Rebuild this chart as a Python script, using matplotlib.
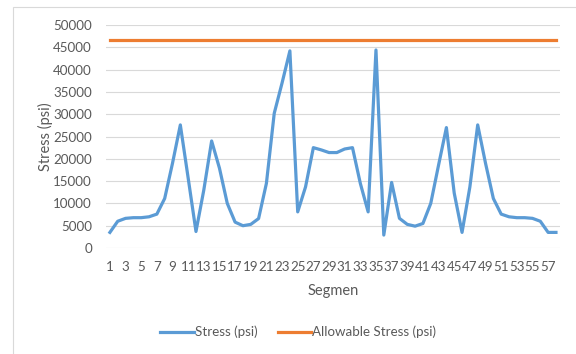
import matplotlib
matplotlib.use("Agg")
import matplotlib.pyplot as plt
from matplotlib.patches import Rectangle

plt.rcParams['font.family'] = ['Lato', 'DejaVu Sans']

# Data
segments = list(range(1, 59))
stress = [3500, 6000, 6650, 6800, 6800, 7000, 7600, 11100, 19000, 27600,
          15700, 3700, 13000, 24000, 17900, 10000, 5800, 5000, 5300, 6600,
          14500, 30200, 37000, 44200, 8100, 13700, 22500, 22000, 21400, 21400,
          22200, 22500, 14500, 8100, 44400, 2900, 14700, 6650, 5300, 4900,
          5500, 10000, 18600, 27000, 12300, 3500, 13700, 27600, 19000, 11100,
          7600, 7000, 6800, 6800, 6650, 6000, 3500, 3500]
allowable = [46700] * len(segments)
yticks = list(range(0, 50001, 5000))

fig = plt.figure(figsize=(5.76, 3.54), dpi=100)
ax = fig.add_axes([0.184, 0.2994, 0.788, 0.630])

ax.plot(segments, stress, color='#5B9BD5', linewidth=2.3, label='Stress (psi)',
        solid_joinstyle='round')
ax.plot(segments, allowable, color='#ED7D31', linewidth=2.3, label='Allowable Stress (psi)')

ax.set_xlim(0.5, 58.5)
ax.set_ylim(0, 50000)
ax.set_yticks(yticks)
ax.set_xticks(segments[::2])
ax.tick_params(axis='both', length=0, labelsize=9.6, labelcolor='#595959')
ax.tick_params(axis='x', pad=9)
ax.tick_params(axis='y', pad=10)
ax.grid(axis='y', color='#d9d9d9', linewidth=0.8)
ax.set_axisbelow(True)
for s in ax.spines.values():
    s.set_visible(False)

ax.set_xlabel('Segmen', fontsize=10.5, color='#595959', labelpad=8)
ax.set_ylabel('Stress (psi)', fontsize=10.5, color='#595959', labelpad=0)

fig.legend(loc='center', bbox_to_anchor=(0.518, 0.062), ncol=2, frameon=False,
           fontsize=9.6, labelcolor='#595959', handlelength=2.5, handletextpad=0.1,
           columnspacing=1.5)

# chart area border
fig.patches.append(Rectangle((13 / 576, -0.1), 1.2, 1 - 7 / 354 + 0.1,
                             transform=fig.transFigure, fill=False,
                             edgecolor='#d9d9d9', linewidth=0.8))

fig.savefig('out.png', dpi=100)
